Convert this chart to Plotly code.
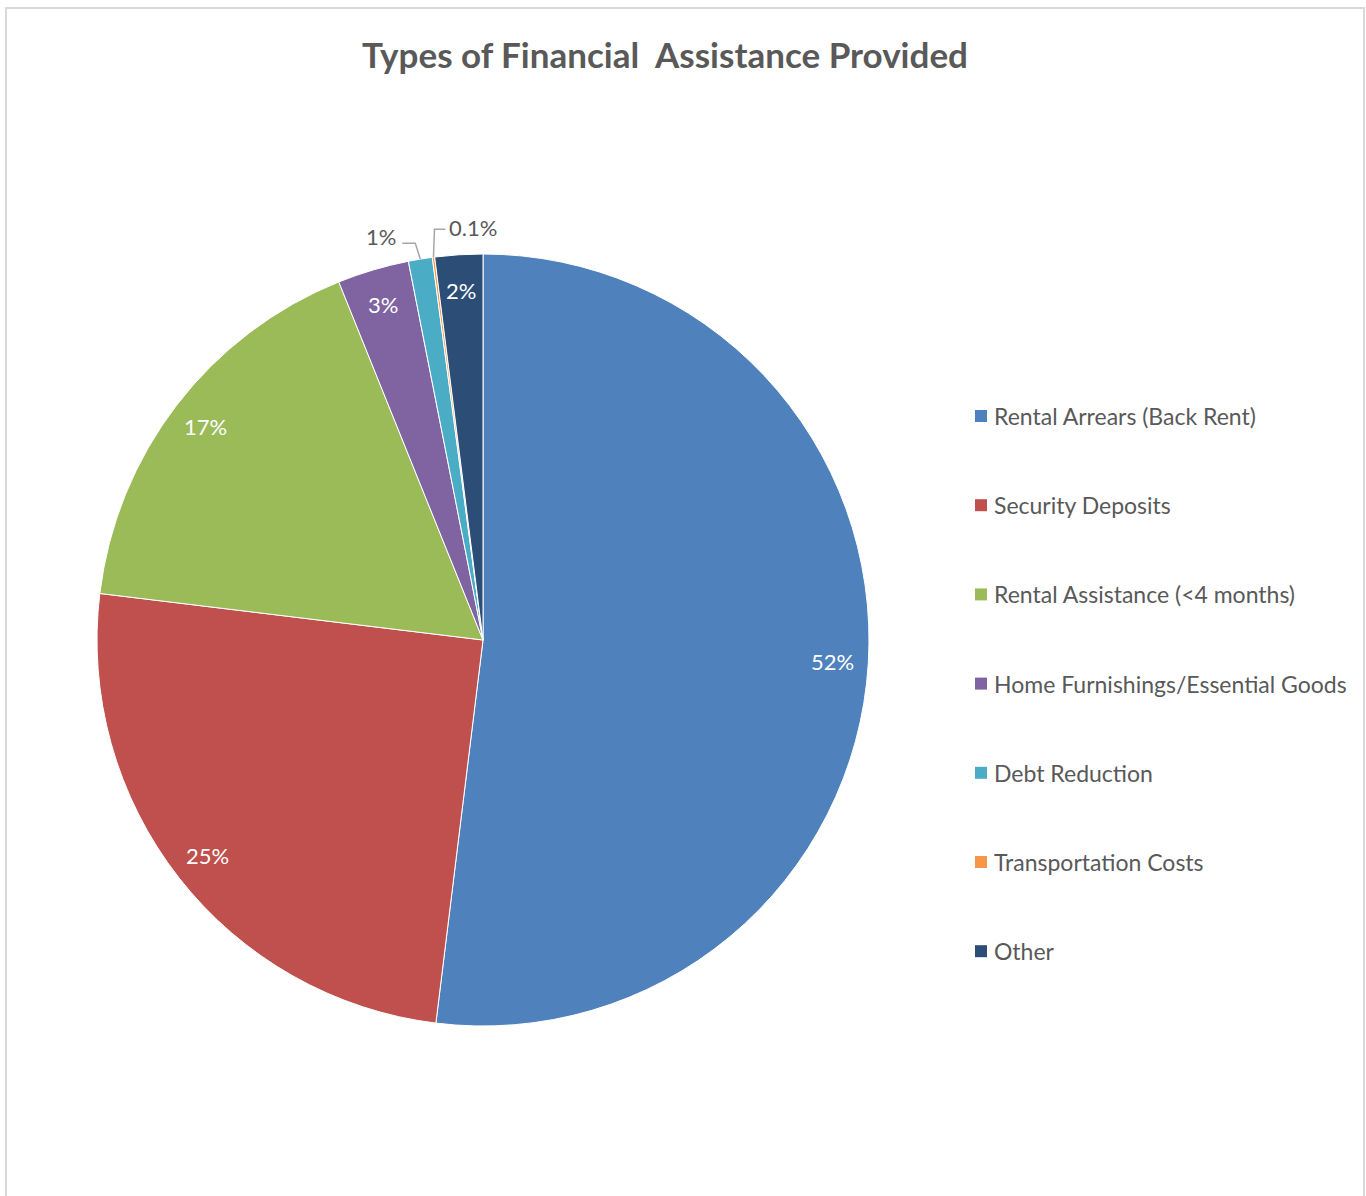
import math
import plotly.graph_objects as go

# Categories, shares (%) and slice colours
categories = [
    "Rental Arrears (Back Rent)",
    "Security Deposits",
    "Rental Assistance (<4 months)",
    "Home Furnishings/Essential Goods",
    "Debt Reduction",
    "Transportation Costs",
    "Other",
]
shares = [52, 25, 17, 3, 1, 0.1, 2]
colors = ["#4F81BD", "#C0504D", "#9BBB59", "#8064A2", "#4BACC6", "#F79646", "#2C4D75"]
# where each data label sits: inside the slice, or outside with a leader line
label_side = ["in", "in", "in", "in", "left", "right", "in"]

W, H = 1366, 1196
CX, CY, R = 483, 640, 386  # pie centre and radius in pixels
FONT = "Lato"
GREY = "#595959"


def px(x):
    return x / W


def py(y):
    return 1 - y / H


def fmt(v):
    return f"{v:g}%"


fig = go.Figure(
    go.Pie(
        labels=categories,
        values=shares,
        sort=False,
        direction="clockwise",
        rotation=0,
        marker=dict(colors=colors, line=dict(color="white", width=1)),
        textinfo="none",
        showlegend=False,
        domain=dict(x=[px(CX - R), px(CX + R)], y=[py(CY + R), py(CY - R)]),
    )
)

annotations = []
shapes = []

# Data labels: inside-end for the larger slices, leader lines for the tiny ones
total = sum(shares)
cum = 0.0
for i, v in enumerate(shares):
    theta = 2 * math.pi * (cum + v / 2) / total
    cum += v
    sx, sy = math.sin(theta), -math.cos(theta)
    side = label_side[i]
    if side == "in":
        r = R - 36
        annotations.append(dict(
            x=px(CX + r * sx), y=py(CY + r * sy), xref="paper", yref="paper",
            xanchor="center", yanchor="middle",
            text=fmt(v), showarrow=False, font=dict(family=FONT, size=22, color="white"),
        ))
        continue
    ax, ay = CX + R * sx, CY + R * sy
    if side == "left":
        # short diagonal, then an elbow to the left
        bx, by = ax - 5, ay - 16
        ex = bx - 13
        lx, ly, anchor = ex - 4, by - 7, "right"
    else:
        # straight up, then an elbow to the right
        bx, by = ax + 1, ay - 28
        ex = bx + 11
        lx, ly, anchor = ex + 2, by - 2, "left"
    shapes.append(dict(type="path", xref="paper", yref="paper",
                       path=f"M {px(ax)} {py(ay)} L {px(bx)} {py(by)} L {px(ex)} {py(by)}",
                       line=dict(color="#A6A6A6", width=1.5)))
    annotations.append(dict(
        x=px(lx), y=py(ly), xref="paper", yref="paper", xanchor=anchor, yanchor="middle",
        text=fmt(v), showarrow=False, font=dict(family=FONT, size=22, color=GREY),
    ))

# Legend: coloured squares with labels
LEG_X, LEG_Y0, LEG_DY = 975, 416, 89.2
for i, (name, col) in enumerate(zip(categories, colors)):
    yc = LEG_Y0 + i * LEG_DY
    shapes.append(dict(type="rect", xref="paper", yref="paper",
                       x0=px(LEG_X), x1=px(LEG_X + 12), y0=py(yc + 6), y1=py(yc - 6),
                       fillcolor=col, line=dict(width=0)))
    annotations.append(dict(
        x=px(LEG_X + 17), y=py(yc), xref="paper", yref="paper", xanchor="left", yanchor="middle",
        text=name, showarrow=False, font=dict(family=FONT, size=23, color=GREY),
    ))

# Chart frame
shapes.append(dict(type="rect", xref="paper", yref="paper",
                   x0=px(6), x1=px(1364), y0=-0.02, y1=py(8),
                   line=dict(color="#D9D9D9", width=2), fillcolor="rgba(0,0,0,0)", layer="below"))

fig.update_layout(
    width=W, height=H,
    margin=dict(l=0, r=0, t=0, b=0),
    paper_bgcolor="white",
    title=dict(text="<b>Types of Financial  Assistance Provided</b>",
               x=px(665), xanchor="center", y=py(56), yanchor="middle",
               font=dict(family=FONT, size=35, color=GREY)),
    annotations=annotations,
    shapes=shapes,
)

fig.write_html("out.html")
